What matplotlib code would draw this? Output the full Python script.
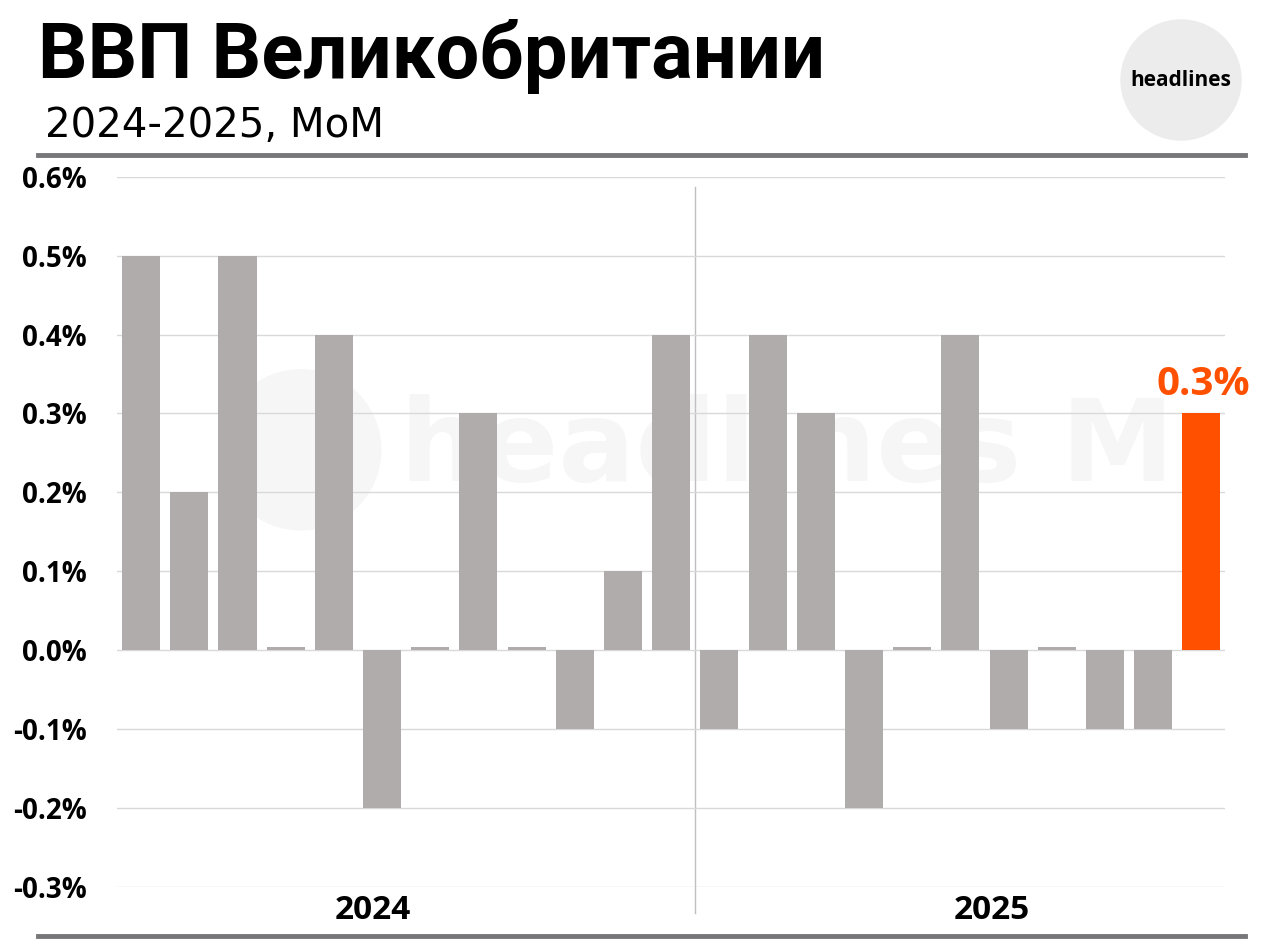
import matplotlib.pyplot as plt
from matplotlib.patches import Circle, Ellipse

# monthly GDP change, %
vals_2024 = [0.5, 0.2, 0.5, 0.0, 0.4, -0.2, 0.0, 0.3, 0.0, -0.1, 0.1, 0.4]
vals_2025 = [-0.1, 0.4, 0.3, -0.2, 0.0, 0.4, -0.1, 0.0, -0.1, -0.1, 0.3]
years = ['2024', '2025']
yticks = [0.6, 0.5, 0.4, 0.3, 0.2, 0.1, 0.0, -0.1, -0.2, -0.3]

values = vals_2024 + vals_2025
grey = '#b0acab'
orange = '#ff5000'

fig = plt.figure(figsize=(12.8, 9.47), dpi=100)

# faint watermark behind everything
fig.text(0.615, 0.525, 'headlines M', ha='center', va='center', fontsize=82,
         fontweight='bold', color='#f6f6f6', zorder=0)
fig.add_artist(Ellipse((0.235, 0.525), 160 / 1280, 160 / 947, color='#f6f6f6', zorder=0))

ax = fig.add_axes([0.0914, 0.0634, 0.866, 0.750])
ax.set_zorder(1)
ax.patch.set_alpha(0)

x = list(range(len(values)))
heights = [v if v != 0 else 0.004 for v in values]
colors = [grey] * (len(values) - 1) + [orange]
ax.bar(x, heights, width=0.79, color=colors, zorder=2)

ax.set_xlim(-0.5, len(values) - 0.5)
ax.set_ylim(-0.3, 0.6)
ax.set_yticks(yticks)
ax.set_yticklabels([f'{t:.1f}%' for t in yticks], fontsize=20, fontweight='bold',
                   family='Open Sans')
ax.tick_params(axis='y', length=0, pad=22)
ax.set_xticks([])
ax.grid(axis='y', color='#d9d9d9', linewidth=1, zorder=0)
for s in ax.spines.values():
    s.set_visible(False)

# year separator and labels
ax.plot([11.5, 11.5], [-0.333, 0.587], color='#bfbfbf', linewidth=1, clip_on=False, zorder=1)
ax.text(4.8, -0.33, years[0], ha='center', va='center', fontsize=24, fontweight='bold',
        family='Open Sans')
ax.text(17.65, -0.33, years[1], ha='center', va='center', fontsize=24, fontweight='bold',
        family='Open Sans')

# last value label
ax.text(x[-1] + 0.05, values[-1] + 0.012, f'{values[-1]:.1f}%', ha='center', va='bottom',
        fontsize=29, fontweight='bold', color=orange, family='Open Sans')

# header
fig.text(0.03, 0.94, 'ВВП Великобритании', fontsize=56, fontweight='bold', va='center',
         family='Roboto')
fig.text(0.035, 0.867, '2024-2025, MoM', fontsize=29, va='center')
fig.add_artist(plt.Line2D([0.03, 0.973], [0.836, 0.836], color='#77777a', linewidth=3.5))
fig.add_artist(plt.Line2D([0.03, 0.973], [0.012, 0.012], color='#77777a', linewidth=3.5))
logo = Circle((1181, 947 - 80), 60, transform=None, color='#ececec')
fig.add_artist(logo)
fig.text(1181 / 1280, 1 - 80 / 947, 'headlines', ha='center', va='center',
         fontsize=15, fontweight='bold', family='Open Sans')

fig.savefig('out.png', dpi=100)
